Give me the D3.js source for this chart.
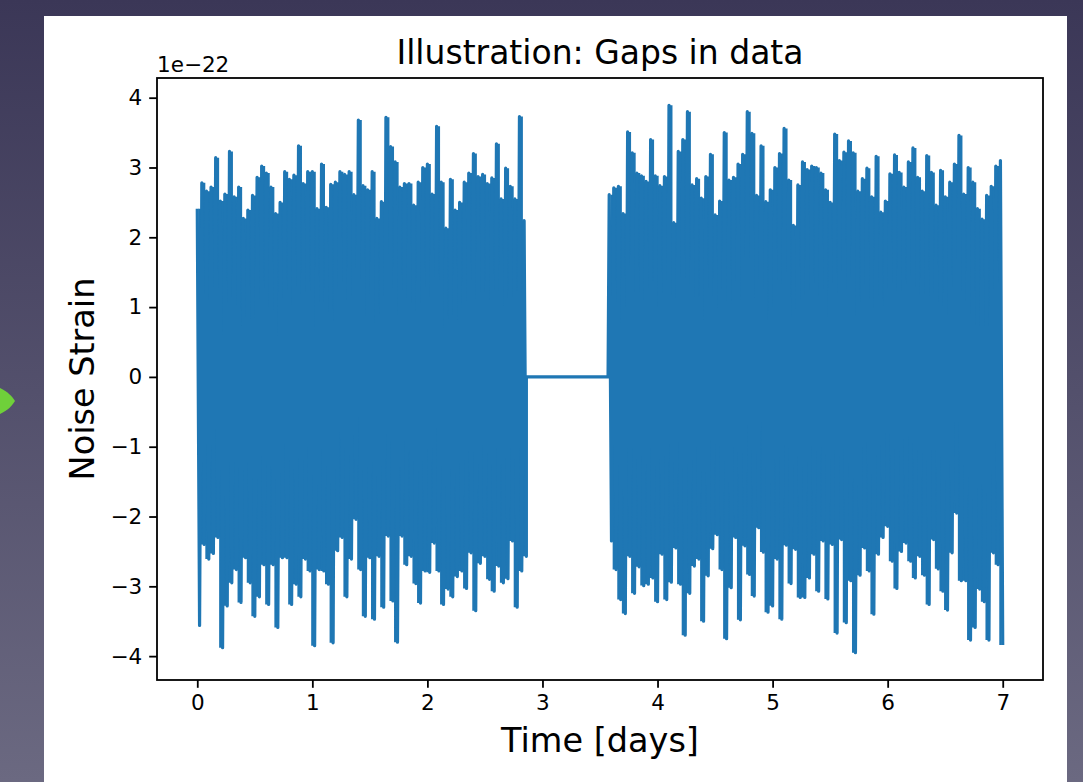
<!DOCTYPE html>
<html>
<head>
<meta charset="utf-8">
<script src="https://cdn.jsdelivr.net/npm/d3@7"></script>
<style>
  body { margin: 0; overflow: hidden; }
  svg { display: block; font-family: "DejaVu Sans", sans-serif; }
</style>
</head>
<body>
<svg width="1083" height="782"></svg>
<script>
// strain values in units of 1e-22 (peak up / peak down per 0.04 day bin)
const step = 0.04;
const start1 = 0;
const start2 = 3.58;
const gapStart = 2.86;
const gapEnd = 3.57;

const upper1 = [2.41, 2.78, 2.66, 2.72, 3.14, 2.52, 2.62, 3.23, 2.58, 2.72,
  2.27, 2.39, 2.60, 2.86, 3.02, 2.92, 2.72, 2.34, 2.50, 2.94,
  2.83, 2.89, 3.31, 2.77, 2.94, 2.94, 2.41, 3.05, 2.43, 2.76,
  2.79, 2.94, 2.90, 2.94, 2.61, 3.68, 2.74, 2.68, 2.94, 2.27,
  2.51, 3.72, 3.30, 3.08, 2.72, 2.77, 2.77, 2.46, 2.79, 3.00,
  3.05, 2.62, 3.59, 2.79, 2.13, 2.83, 2.39, 2.50, 2.79, 2.92,
  3.20, 2.87, 2.90, 2.77, 2.85, 3.34, 2.55, 2.99, 2.73, 2.55,
  3.73, 2.24];
const lower1 = [-3.56, -2.40, -2.61, -2.53, -2.30, -3.88, -3.28, -2.95, -2.76, -3.23,
  -2.59, -2.95, -3.43, -3.15, -2.69, -3.26, -2.69, -3.59, -2.59, -2.59,
  -3.26, -2.97, -3.15, -2.61, -2.78, -3.85, -2.76, -2.78, -2.97, -3.81,
  -2.49, -2.30, -3.15, -2.61, -2.04, -2.76, -3.43, -2.59, -3.47, -2.57,
  -3.30, -2.28, -3.21, -3.80, -2.28, -2.69, -2.57, -2.96, -3.24, -2.78,
  -2.80, -2.38, -2.78, -3.26, -3.04, -3.15, -2.86, -2.78, -3.03, -2.52,
  -3.35, -2.67, -2.57, -2.90, -3.07, -2.71, -2.95, -2.89, -2.35, -3.30,
  -2.78, -2.57];
const upper2 = [2.61, 2.71, 2.73, 2.34, 3.51, 3.21, 2.92, 2.88, 2.80, 3.40,
  2.88, 2.74, 2.87, 3.89, 2.21, 3.23, 3.40, 3.80, 2.75, 2.84,
  2.56, 2.87, 3.19, 2.32, 2.52, 3.50, 2.82, 2.86, 3.05, 3.19,
  3.80, 3.49, 2.60, 3.31, 2.51, 2.68, 3.00, 3.20, 3.56, 2.82,
  2.17, 2.75, 3.08, 2.97, 3.02, 3.00, 2.92, 2.68, 2.50, 3.48,
  3.10, 3.22, 3.38, 3.21, 2.66, 2.84, 2.99, 2.58, 3.16, 2.36,
  2.52, 2.91, 3.18, 2.93, 2.72, 3.08, 3.28, 2.86, 2.66, 3.17,
  2.93, 2.46, 2.96, 2.58, 2.79, 3.05, 3.46, 2.62, 3.00, 2.79,
  2.41, 2.26, 2.60, 2.73, 3.02, 3.10];
const lower2 = [-2.35, -2.76, -3.19, -3.39, -2.57, -3.10, -2.72, -2.99, -2.97, -2.88,
  -3.22, -2.54, -3.19, -2.94, -2.45, -2.97, -3.70, -3.10, -2.71, -2.61,
  -3.50, -2.85, -2.46, -2.26, -2.76, -3.75, -3.02, -2.30, -3.48, -2.42,
  -2.83, -3.14, -2.16, -2.51, -3.37, -3.28, -2.61, -3.47, -2.41, -2.96,
  -2.47, -3.16, -3.16, -2.88, -2.54, -3.07, -2.35, -3.18, -2.40, -3.67,
  -2.33, -3.52, -2.92, -3.95, -2.84, -2.45, -2.78, -3.40, -2.54, -2.30,
  -2.14, -2.64, -3.03, -2.50, -2.38, -2.64, -2.88, -2.57, -2.84, -3.26,
  -2.33, -2.75, -3.07, -3.34, -2.52, -1.95, -2.92, -2.92, -3.77, -3.59,
  -3.04, -3.22, -3.77, -2.52, -2.69, -3.84];

const xTicks = [0, 1, 2, 3, 4, 5, 6, 7];
const yTicks = [-4, -3, -2, -1, 0, 1, 2, 3, 4];

// each bin: one stroke up to its peak and one down to its trough
function segment(t0, up, lo) {
  const pts = [];
  up.forEach((u, i) => {
    pts.push([t0 + i * step, u]);
    pts.push([t0 + i * step + step / 2, lo[i]]);
  });
  return pts;
}
function bins(t0, up, lo) {
  return up.map((u, i) => ({ t: t0 + i * step + step / 4, up: u, lo: lo[i] }));
}
const points = segment(start1, upper1, lower1)
  .concat([[gapStart, 0], [gapEnd, 0]])
  .concat(segment(start2, upper2, lower2));
const dense = [bins(start1, upper1, lower1), bins(start2, upper2, lower2)];

const svg = d3.select('svg');
const W = 1083, H = 782;

// slide background
const defs = svg.append('defs');
const grad = defs.append('linearGradient').attr('id', 'bg')
  .attr('x1', 0).attr('y1', 0).attr('x2', 0).attr('y2', 1);
grad.append('stop').attr('offset', 0).attr('stop-color', '#3b3757');
grad.append('stop').attr('offset', 1).attr('stop-color', '#6b6981');
svg.append('rect').attr('width', W).attr('height', H).attr('fill', 'url(#bg)');
svg.append('path')
  .attr('d', 'M0,388 C8,392 12,396 15,401 C12,406 8,410 0,414 Z')
  .attr('fill', '#6fd03a');

// figure
svg.append('rect').attr('x', 44).attr('y', 16).attr('width', 1023).attr('height', H - 16)
  .attr('fill', '#fff');

const axL = 157, axR = 1043, axT = 78, axB = 680;

const xExt = d3.extent(points, d => d[0]);
const yExt = d3.extent(points, d => d[1]);
const xPad = (xExt[1] - xExt[0]) * 0.05;
const yPad = (yExt[1] - yExt[0]) * 0.05;

const x = d3.scaleLinear().domain([xExt[0] - xPad, xExt[1] + xPad]).range([axL, axR]);
const y = d3.scaleLinear().domain([yExt[0] - yPad, yExt[1] + yPad]).range([axB, axT]);

const plot = svg.append('g').attr('clip-path', 'url(#clip)');
defs.append('clipPath').attr('id', 'clip')
  .append('rect').attr('x', axL).attr('y', axT).attr('width', axR - axL).attr('height', axB - axT);

// the dense core of the noise (thousands of samples per pixel in the original)
plot.selectAll('path.core')
  .data(dense)
  .join('path')
  .attr('class', 'core')
  .attr('fill', '#1f77b4')
  .attr('d', d3.area().curve(d3.curveStep)
    .x(d => x(d.t)).y0(d => y(d.lo)).y1(d => y(d.up)));

plot.append('path')
  .datum(points)
  .attr('fill', 'none')
  .attr('stroke', '#1f77b4')
  .attr('stroke-width', 3.2)
  .attr('stroke-linejoin', 'round')
  .attr('d', d3.line().x(d => x(d[0])).y(d => y(d[1])));

const fmt = d => (d < 0 ? '\u2212' + Math.abs(d) : String(d));

const xAxis = svg.append('g').attr('transform', `translate(0,${axB})`)
  .call(d3.axisBottom(x).tickValues(xTicks).tickFormat(fmt).tickSizeInner(7.8).tickSizeOuter(0).tickPadding(7));
const yAxis = svg.append('g').attr('transform', `translate(${axL},0)`)
  .call(d3.axisLeft(y).tickValues(yTicks).tickFormat(fmt).tickSizeInner(7.8).tickSizeOuter(0).tickPadding(7));
[xAxis, yAxis].forEach(g => {
  g.select('.domain').remove();
  g.selectAll('line').attr('stroke', '#000').attr('stroke-width', 1.8);
  g.selectAll('text').attr('font-family', 'DejaVu Sans').attr('font-size', 21.5).attr('fill', '#000');
});

// frame
svg.append('rect').attr('x', axL).attr('y', axT).attr('width', axR - axL).attr('height', axB - axT)
  .attr('fill', 'none').attr('stroke', '#000').attr('stroke-width', 1.8);

svg.append('text').attr('x', axL).attr('y', 72)
  .attr('font-size', 21.5).text('1e\u221222');

svg.append('text').attr('x', (axL + axR) / 2).attr('y', 64)
  .attr('text-anchor', 'middle').attr('font-size', 33)
  .text('Illustration: Gaps in data');

svg.append('text').attr('x', (axL + axR) / 2).attr('y', 752)
  .attr('text-anchor', 'middle').attr('font-size', 33.5)
  .text('Time [days]');

svg.append('text')
  .attr('transform', `translate(94,${(axT + axB) / 2}) rotate(-90)`)
  .attr('text-anchor', 'middle').attr('font-size', 33.5)
  .text('Noise Strain');
</script>
</body>
</html>
